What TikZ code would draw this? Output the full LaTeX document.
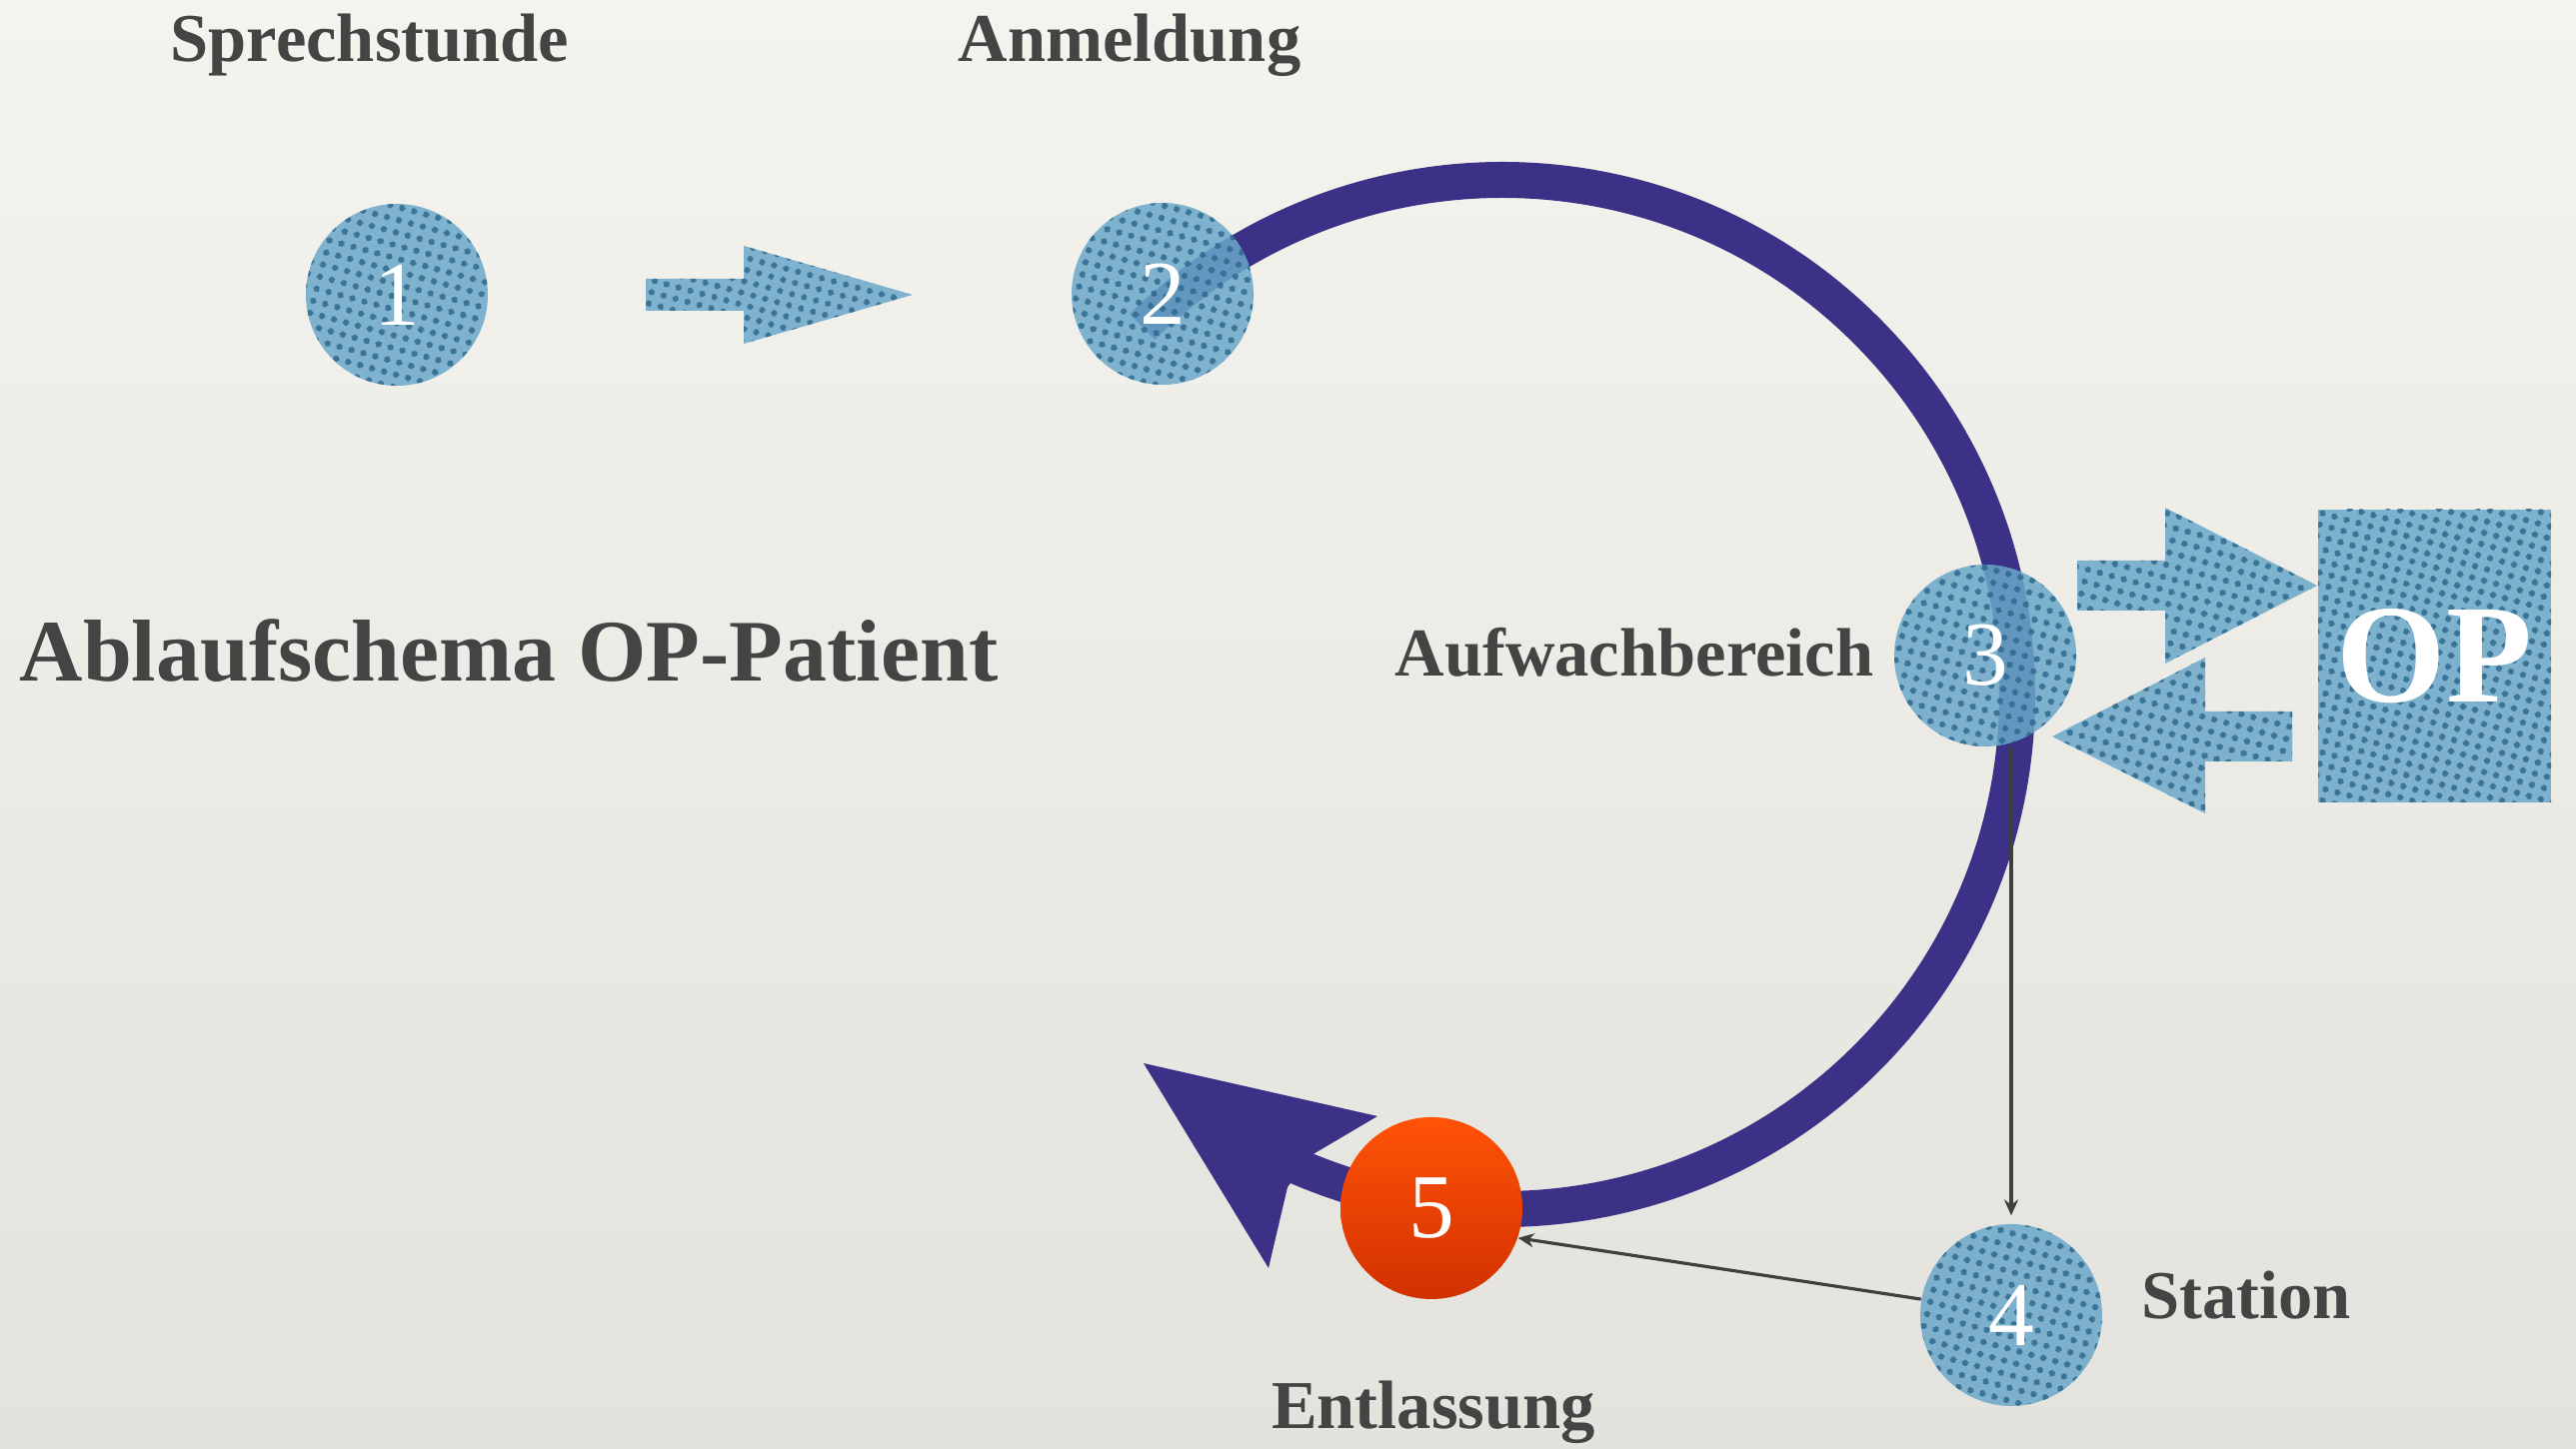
\documentclass[tikz,border=0pt]{standalone}
\usepackage{fontspec}
\setmainfont{Liberation Serif}
\usetikzlibrary{arrows.meta,patterns.meta}

\definecolor{paperTop}{HTML}{F5F3EE}
\definecolor{paperBot}{HTML}{E4E2DD}
\definecolor{ringblue}{HTML}{3B3186}
\definecolor{meshbase}{HTML}{6AA8CA}
\definecolor{meshdot}{HTML}{2F6A8E}
\definecolor{labelgray}{HTML}{444444}
\definecolor{linegray}{HTML}{3F3F3F}
\definecolor{exitTop}{HTML}{FF5306}
\definecolor{exitBot}{HTML}{D13000}

\tikzdeclarepattern{
  name=meshdots,
  type=uncolored,
  bottom left={(0pt,0pt)},
  top right={(3.55pt,3.55pt)},
  tile size={(3.55pt,3.55pt)},
  tile transformation={rotate=-15},
  code={\fill (1.775pt,1.775pt) circle (1.0pt);}
}

\tikzset{
  mesh/.style={preaction={fill=meshbase, fill opacity=0.85}, pattern=meshdots, pattern color=meshdot, fill opacity=0.85, text opacity=1},
  station/.style={circle, mesh, minimum size=1.82cm, inner sep=0pt, text=white, font=\fontsize{26}{26}\selectfont},
  caption/.style={text=labelgray, font=\bfseries\fontsize{19.5}{20}\selectfont, anchor=base},
  flowline/.style={draw=linegray, line width=0.9pt, -{Stealth[length=4.5pt,width=4pt]}}
}

\begin{document}
\begin{tikzpicture}
	\useasboundingbox (0,0) rectangle (25.77,14.50);
	\shade[top color=paperTop, bottom color=paperBot] (0,0) rectangle (25.77,14.50);

	\coordinate (hub) at (15.03,7.55);
	\draw[ringblue, line width=0.36cm] (hub) ++(134.4:5.15) arc[start angle=134.4, end angle=-114, radius=5.15];
	\fill[ringblue] (11.44,3.86) -- (13.78,3.33) -- (13.12,2.94) -- (12.88,2.62) -- (12.69,1.81) -- cycle;

	\path[mesh] (6.46,11.71) -- (7.44,11.71) -- (7.44,12.04) -- (9.13,11.55) -- (7.44,11.06) -- (7.44,11.39) -- (6.46,11.39) -- cycle;
	\path[mesh] (20.78,8.89) -- (21.66,8.89) -- (21.66,9.42) -- (23.18,8.64) -- (21.66,7.86) -- (21.66,8.39) -- (20.78,8.39) -- cycle;
	\path[mesh] (22.93,7.38) -- (22.06,7.38) -- (22.06,7.92) -- (20.53,7.13) -- (22.06,6.36) -- (22.06,6.88) -- (22.93,6.88) -- cycle;

	\node[station] (c1) at (3.97,11.55) {1};
	\node[station] (c2) at (11.63,11.56) {2};
	\node[station] (c3) at (19.86,7.94) {3};
	\node[station] (c4) at (20.12,1.34) {4};
	\node[circle, top color=exitTop, bottom color=exitBot, minimum size=1.82cm, inner sep=0pt, text=white, font=\fontsize{26}{26}\selectfont] (c5) at (14.32,2.41) {5};
	\node[rectangle, mesh, minimum width=2.33cm, minimum height=2.93cm, inner sep=0pt, text=white, font=\bfseries\fontsize{40}{40}\selectfont] (op) at (24.355,7.935) {OP};

	\draw[flowline, shorten >=0.08cm] (c3.south -| c4.north) -- (c4.north);
	\draw[flowline] (c4.170) -- (c5.-19);

	\node[caption] (sprech) at (3.70,13.88) {Sprechstunde};
	\node[caption] (anmeld) at (11.30,13.88) {Anmeldung};
	\node[caption, font=\bfseries\fontsize{25}{26}\selectfont] (title) at (5.09,7.68) {Ablaufschema OP-Patient};
	\node[caption] (aufwach) at (16.35,7.73) {Aufwachbereich};
	\node[caption] (station) at (22.47,1.30) {Station};
	\node[caption] (entl) at (14.34,0.20) {Entlassung};
\end{tikzpicture}
\end{document}
